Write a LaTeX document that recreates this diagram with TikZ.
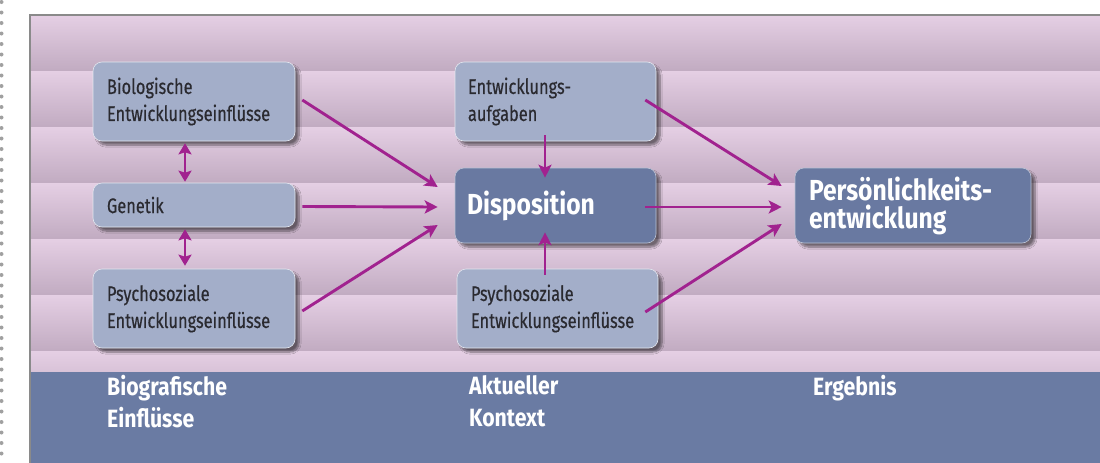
\documentclass[tikz,border=0pt]{standalone}
\usepackage{fontspec}
\setmainfont{Fira Sans}[FakeStretch=0.78, FakeBold=0.5, BoldFeatures={FakeStretch=0.85, FakeBold=0}]
\usetikzlibrary{arrows.meta,shadows.blur}
\definecolor{bandtop}{HTML}{E5CFE4}
\definecolor{bandbot}{HTML}{C1ABC1}
\definecolor{footblue}{HTML}{6A7BA3}
\definecolor{boxlight}{HTML}{A3AEC9}
\definecolor{boxdark}{HTML}{6979A1}
\definecolor{arrcol}{HTML}{A1228F}
\definecolor{txtdark}{HTML}{2A2A30}
\definecolor{framegray}{HTML}{8A8A8A}
\definecolor{dotgray}{HTML}{A0A0A0}
\tikzset{
  box/.style={rounded corners=9pt, draw=white!70!boxlight, line width=0.6pt, align=left,
    inner ysep=4pt, blur shadow={shadow xshift=4pt, shadow yshift=-4pt, shadow opacity=50, shadow blur steps=8}},
  lbox/.style={box, fill=boxlight, text=txtdark, inner xsep=14pt, text width=174pt,
    font=\fontsize{21}{27}\selectfont},
  dbox/.style={box, fill=boxdark, draw=white!55!boxdark, text=white, font=\bfseries\fontsize{29}{28}\selectfont},
  arr/.style={draw=arrcol, line width=2.9pt, -{Stealth[length=13pt,width=13pt,inset=3pt]}},
  darr/.style={draw=arrcol, line width=2.9pt, {Stealth[length=11pt,width=13pt,inset=2pt]}-{Stealth[length=11pt,width=13pt,inset=2pt]}},
  blabel/.style={text=white, font=\bfseries\fontsize{25}{32}\selectfont, align=left, inner sep=0pt, anchor=north west},
  band/.style={top color=bandtop, bottom color=bandbot}
}
\begin{document}
\begin{tikzpicture}[x=1pt,y=-1pt]
\useasboundingbox (0,0) rectangle (1100,463);
\fill[white] (0,0) rectangle (1100,463);
% dotted margin line
\draw[dotgray, line width=4pt, line cap=round, dash pattern=on 0pt off 10.5pt] (1.5,2) -- (1.5,463);
% bands
\foreach \t in {15,71,127,183,239,295}{
  \shade[band] (30,\t) rectangle (1100,\t+56);
}
\shade[top color=bandtop, bottom color=bandtop!65!bandbot] (30,351) rectangle (1100,372);
\fill[footblue] (30,372) rectangle (1100,463);
\draw[framegray, line width=1.4pt] (30,463) -- (30,15) -- (1100,15);

% boxes
\node[lbox, minimum height=79pt] (bio) at (194,101.5) {Biologische\\Entwicklungseinflüsse};
\node[lbox, minimum height=44pt] (gen) at (194,205) {Genetik};
\node[lbox, minimum height=79pt] (psyL) at (194,308.5) {Psychosoziale\\Entwicklungseinflüsse};
\node[lbox, minimum height=79pt, inner xsep=13pt, text width=175pt] (entw) at (555.5,101.5) {Entwicklungs-\\aufgaben};
\node[dbox, minimum height=75pt, inner xsep=12pt, text width=177pt] (disp) at (555.5,205.5) {Disposition};
\node[lbox, minimum height=79pt, inner xsep=14pt, text width=173pt] (psyM) at (557.5,308.5) {Psychosoziale\\Entwicklungseinflüsse};
\node[dbox, minimum height=75pt, inner xsep=14pt, text width=208pt] (pers) at (913,205.5) {Persönlichkeits-\\entwicklung};

% connectors
\draw[arr] ([xshift=7pt,yshift=1.5pt]bio.east) -- ([xshift=-17pt,yshift=18.5pt]disp.west);
\draw[arr] ([xshift=7pt,yshift=-1.5pt]gen.east) -- ([xshift=-17pt,yshift=-1.5pt]disp.west);
\draw[arr] ([xshift=7pt,yshift=-2.5pt]psyL.east) -- ([xshift=-17pt,yshift=-19.5pt]disp.west);
\draw[darr] ([xshift=-9pt,yshift=-2pt]bio.south) -- ([xshift=-9pt,yshift=1pt]gen.north);
\draw[darr] ([xshift=-9pt,yshift=-2pt]gen.south) -- ([xshift=-9pt,yshift=3pt]psyL.north);
\draw[arr] ([xshift=-10.5pt,yshift=6pt]entw.south) -- ([xshift=-10.5pt,yshift=-10pt]disp.north);
\draw[arr] ([xshift=-12.5pt,yshift=-6pt]psyM.north) -- ([xshift=-10.5pt,yshift=11pt]disp.south);
\draw[arr] ([xshift=-11pt,yshift=1.5pt]entw.east) -- ([xshift=-13pt,yshift=19.5pt]pers.west);
\draw[arr] ([xshift=-11pt,yshift=-1.5pt]disp.east) -- ([xshift=-13pt,yshift=-1.5pt]pers.west);
\draw[arr] ([xshift=-13pt,yshift=-3.5pt]psyM.east) -- ([xshift=-13pt,yshift=-18.5pt]pers.west);

% footer labels
\node[blabel] (lab1) at (107,375) {Biografische\\Einflüsse};
\node[blabel] (lab2) at (469,375) {Aktueller\\Kontext};
\node[blabel] (lab3) at (813,375) {Ergebnis};
\end{tikzpicture}
\end{document}
